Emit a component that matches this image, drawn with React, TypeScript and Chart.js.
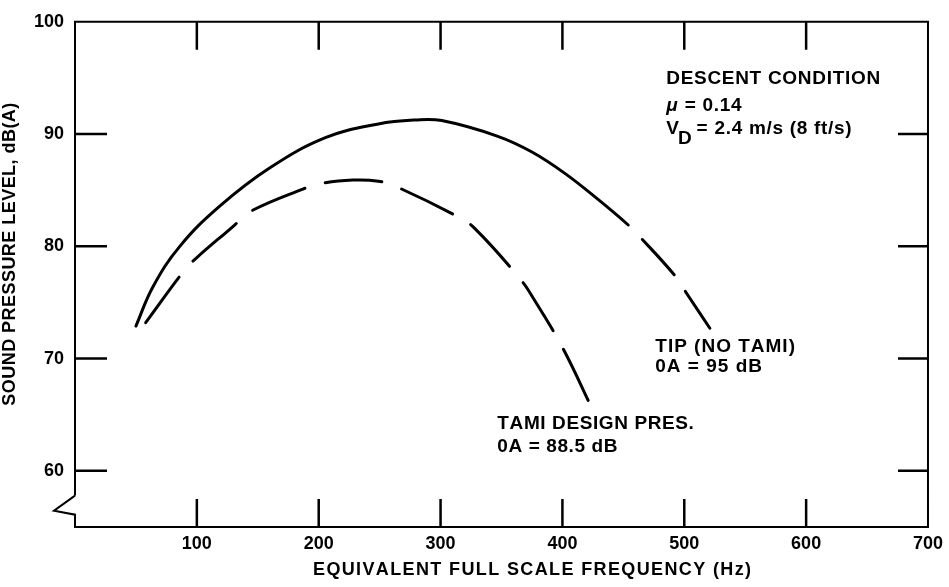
import React, { useEffect, useRef } from "react";
import { Chart, registerables } from "chart.js";

Chart.register(...registerables);

// ---- data ----
const xTickValues = [100, 200, 300, 400, 500, 600, 700];
const yTickValues = [60, 70, 80, 90, 100];
const xInnerTicks = [100, 200, 300, 400, 500, 600];
const yInnerTicks = [60, 70, 80, 90];

const tipFreq = [50, 64, 86, 119, 160, 206, 249, 279, 301, 347, 375, 402, 429, 454, 464, 493, 502, 521];
const tipLevel = [72.9, 76.4, 80.0, 83.6, 87.0, 89.7, 90.9, 91.25, 91.2, 89.8, 88.4, 86.5, 84.2, 81.9, 80.8, 77.3, 75.8, 72.7];
const tipDashFrom = 454;

const tamiFreq = [58, 90, 100, 131, 142, 187, 202, 228, 249, 264, 313, 328, 366, 376, 400, 425];
const tamiLevel = [73.2, 77.9, 79.0, 81.9, 83.0, 85.1, 85.6, 85.9, 85.8, 85.3, 82.7, 81.6, 77.0, 75.4, 71.0, 65.4];

const xTitle = "EQUIVALENT FULL SCALE FREQUENCY (Hz)";
const yTitle = "SOUND PRESSURE LEVEL, dB(A)";
const conditionTitle = "DESCENT CONDITION";
const muText = " = 0.14";
const vdText = " = 2.4 m/s (8 ft/s)";
const tipLabel = ["TIP (NO TAMI)", "0A = 95 dB"];
const tamiLabel = ["TAMI DESIGN PRES.", "0A = 88.5 dB"];

const FONT = '"Liberation Sans", Arial, sans-serif';

function spacedText(ctx: CanvasRenderingContext2D, text: string, x: number, y: number, width: number) {
  const chars = Array.from(text);
  const widths = chars.map((c) => ctx.measureText(c).width);
  const natural = widths.reduce((s, w) => s + w, 0);
  const gap = chars.length > 1 ? (width - natural) / (chars.length - 1) : 0;
  let cx = x;
  chars.forEach((c, i) => {
    ctx.fillText(c, cx, y);
    cx += widths[i] + gap;
  });
}

function trackText(ctx: CanvasRenderingContext2D, text: string, x: number, y: number, spacing: number) {
  let cx = x;
  Array.from(text).forEach((c) => {
    ctx.fillText(c, cx, y);
    cx += ctx.measureText(c).width + spacing;
  });
  return cx - x;
}

const framePlugin = {
  id: "framePlugin",
  afterDraw(chart: any) {
    const { ctx, chartArea: a, scales } = chart;
    const x = scales.x;
    const y = scales.y;
    ctx.save();
    ctx.strokeStyle = "#000";
    ctx.fillStyle = "#000";

    // frame with axis break
    ctx.lineWidth = 2;
    ctx.lineJoin = "miter";
    ctx.beginPath();
    ctx.moveTo(a.left, y.getPixelForValue(57.8));
    ctx.lineTo(a.left, a.top);
    ctx.lineTo(a.right, a.top);
    ctx.lineTo(a.right, a.bottom);
    ctx.lineTo(a.left, a.bottom);
    ctx.lineTo(a.left, y.getPixelForValue(56.1));
    ctx.lineTo(a.left - 21, y.getPixelForValue(56.45));
    ctx.lineTo(a.left, y.getPixelForValue(57.8));
    ctx.stroke();

    // inner tick marks
    ctx.lineWidth = 2.5;
    ctx.lineCap = "butt";
    ctx.beginPath();
    xInnerTicks.forEach((v) => {
      const px = x.getPixelForValue(v);
      ctx.moveTo(px, a.bottom);
      ctx.lineTo(px, a.bottom - 28);
      ctx.moveTo(px, a.top);
      ctx.lineTo(px, a.top + 28);
    });
    yInnerTicks.forEach((v) => {
      const py = y.getPixelForValue(v);
      ctx.moveTo(a.left, py);
      ctx.lineTo(a.left + 32, py);
      ctx.moveTo(a.right, py);
      ctx.lineTo(a.right - 30, py);
    });
    ctx.stroke();

    // annotations
    const f = `bold 19px ${FONT}`;
    ctx.font = f;
    ctx.textAlign = "left";
    ctx.textBaseline = "alphabetic";
    const sp = 0.7;
    const cx = x.getPixelForValue(485.2);
    trackText(ctx, conditionTitle, cx, y.getPixelForValue(94.42), sp);
    const muY = y.getPixelForValue(92.04);
    ctx.font = `italic bold 19px ${FONT}`;
    ctx.fillText("\u03BC", cx, muY);
    const muW = ctx.measureText("\u03BC").width;
    ctx.font = f;
    trackText(ctx, muText, cx + muW + 1, muY, sp);
    const vY = y.getPixelForValue(90.0);
    ctx.fillText("V", cx, vY);
    const vW = ctx.measureText("V").width;
    ctx.fillText("D", cx + vW - 1, vY + 10);
    const dW = ctx.measureText("D").width;
    trackText(ctx, vdText, cx + vW + dW - 2, vY, sp);

    const tx = x.getPixelForValue(476.2);
    trackText(ctx, tipLabel[0], tx, y.getPixelForValue(70.62), 1.0);
    trackText(ctx, tipLabel[1], tx, y.getPixelForValue(68.8), 1.0);
    const mx = x.getPixelForValue(346.6);
    trackText(ctx, tamiLabel[0], mx, y.getPixelForValue(63.71), 0.6);
    trackText(ctx, tamiLabel[1], mx, y.getPixelForValue(61.64), 0.6);

    // axis titles
    ctx.font = `bold 18px ${FONT}`;
    spacedText(ctx, xTitle, a.left + 238, a.bottom + 48, 438);
    ctx.save();
    ctx.translate(15, y.getPixelForValue(79.3) + 151.5);
    ctx.rotate(-Math.PI / 2);
    spacedText(ctx, yTitle, 0, 0, 303);
    ctx.restore();

    ctx.restore();
  },
};

export default function App() {
  const ref = useRef<HTMLCanvasElement>(null);
  useEffect(() => {
    const canvas = ref.current;
    if (!canvas) return;
    const chart = new Chart(canvas, {
      type: "line",
      data: {
        datasets: [
          {
            label: "TIP (NO TAMI)",
            data: tipFreq.map((v, i) => ({ x: v, y: tipLevel[i] })),
            borderColor: "#000",
            borderWidth: 3,
            pointRadius: 0,
            tension: 0.4,
            borderCapStyle: "round",
            fill: false,
            segment: {
              borderDash: (c: any) => (c.p0.parsed.x >= tipDashFrom ? [48, 20] : undefined),
              borderDashOffset: (c: any) => (c.p0.parsed.x >= tipDashFrom ? 48 : undefined),
            },
          },
          {
            label: "TAMI DESIGN PRES.",
            data: tamiFreq.map((v, i) => ({ x: v, y: tamiLevel[i] })),
            borderColor: "#000",
            borderWidth: 3,
            pointRadius: 0,
            tension: 0.4,
            borderCapStyle: "round",
            borderDash: [57, 21],
            fill: false,
          },
        ],
      },
      options: {
        responsive: false,
        animation: false,
        layout: { padding: { top: 17, right: 17, left: 0, bottom: 0 } },
        plugins: { legend: { display: false }, tooltip: { enabled: false }, title: { display: false } },
        scales: {
          x: {
            type: "linear",
            min: 0,
            max: 700,
            grid: { display: false, drawTicks: false },
            border: { display: false },
            afterBuildTicks: (s: any) => {
              s.ticks = xTickValues.map((v) => ({ value: v }));
            },
            afterFit: (s: any) => {
              s.height = 60;
            },
            ticks: {
              autoSkip: false,
              maxRotation: 0,
              padding: 6,
              color: "#000",
              font: { family: FONT, size: 18, weight: "bold" },
            },
          },
          y: {
            type: "linear",
            min: 55,
            max: 100,
            grid: { display: false, drawTicks: false },
            border: { display: false },
            afterBuildTicks: (s: any) => {
              s.ticks = yTickValues.map((v) => ({ value: v }));
            },
            afterFit: (s: any) => {
              s.width = 75;
            },
            ticks: {
              autoSkip: false,
              padding: 11,
              color: "#000",
              font: { family: FONT, size: 18, weight: "bold" },
            },
          },
        },
      },
      plugins: [framePlugin],
    });
    return () => chart.destroy();
  }, []);
  return (
    <div style={{ position: "fixed", left: 0, top: 0, width: 949, height: 587, background: "#fff" }}>
      <canvas ref={ref} width={949} height={587} style={{ display: "block" }} />
    </div>
  );
}
